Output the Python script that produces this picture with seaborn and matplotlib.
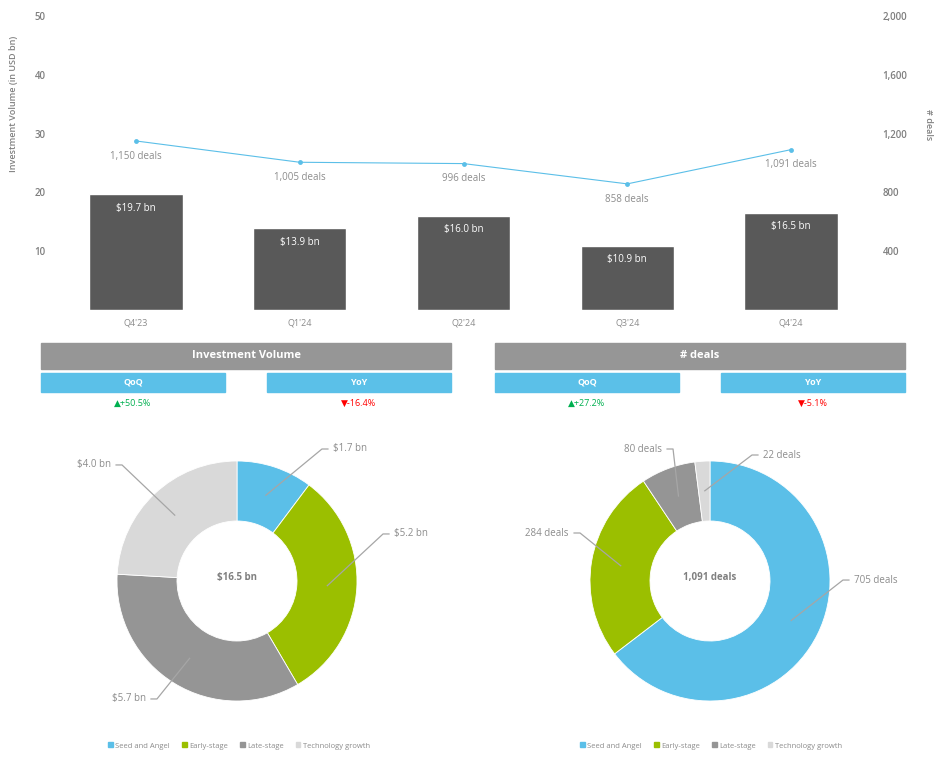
import numpy as np
import seaborn as sns
import matplotlib.pyplot as plt
from matplotlib.patches import Rectangle, Patch

# --- data ---
quarters = ["Q4'23", "Q1'24", "Q2'24", "Q3'24", "Q4'24"]
volume = [19.7, 13.9, 16.0, 10.9, 16.5]
deals = [1150, 1005, 996, 858, 1091]

stages = ['Seed and Angel', 'Early-stage', 'Late-stage', 'Technology growth']
stage_volume = [1.7, 5.2, 5.7, 4.0]
stage_deals = [705, 284, 80, 22]
total_volume = 16.5
total_deals = 1091

kpi_titles = ['Investment Volume', '# deals']
kpi_qoq = ['+50.5%', '+27.2%']
kpi_yoy = ['-16.4%', '-5.1%']

# --- style ---
sns.set_theme(style='white')
plt.rcParams['font.family'] = ['Open Sans', 'DejaVu Sans']
BAR = '#595959'
LINE = '#5BBFE8'
TXT = '#8c8c8c'
stage_colors = ['#5BBFE8', '#9BBF00', '#959595', '#D9D9D9']

W, H = 947, 766
fig = plt.figure(figsize=(W / 100, H / 100), dpi=100)

# --- top combo chart ---
ax = fig.add_axes([54 / W, 1 - 310 / H, 819 / W, 294 / H])
sns.barplot(x=quarters, y=volume, color=BAR, width=0.57, saturation=1, ax=ax)
ax.set_xlim(-0.5, len(quarters) - 0.5)
ax.set_ylim(0, 50)
ax.set_yticks([10, 20, 30, 40, 50])
ax.tick_params(axis='y', length=0, labelsize=7, labelcolor='#7f7f7f', pad=6)
ax.tick_params(axis='x', length=0, labelsize=6.5, labelcolor=TXT, pad=6)
for lab in ax.get_yticklabels():
    lab.set_fontweight('semibold')
ax.set_xlabel('')
ax.set_ylabel('Investment Volume (in USD bn)', fontsize=6.5, color='#808080',
              fontweight='semibold')
ax.yaxis.set_label_coords(-0.044, 0.70)
for i, v in enumerate(volume):
    ax.annotate(f'${v:.1f} bn', xy=(i, v), xytext=(0, -10), textcoords='offset points',
                ha='center', va='center', color='white', fontsize=7)
sns.despine(ax=ax, left=True, bottom=True)

ax2 = ax.twinx()
xpos = np.arange(len(quarters))
sns.lineplot(x=xpos, y=deals, color=LINE, linewidth=0.8, marker='o', markersize=3.5,
             markeredgewidth=0, sort=False, ax=ax2)
ax2.set_xlim(-0.5, len(quarters) - 0.5)
ax2.set_ylim(0, 2000)
ax2.set_yticks([400, 800, 1200, 1600, 2000])
ax2.set_yticklabels([f'{t:,}' for t in [400, 800, 1200, 1600, 2000]])
ax2.tick_params(axis='y', length=0, labelsize=7, labelcolor='#7f7f7f', pad=7)
for lab in ax2.get_yticklabels():
    lab.set_fontweight('semibold')
ax2.set_ylabel('# deals', fontsize=6.5, color='#808080', rotation=270,
               fontweight='semibold')
ax2.yaxis.set_label_coords(1.073, 0.63)
for i, d in enumerate(deals):
    ax2.annotate(f'{d:,} deals', xy=(i, d), xytext=(0, -11), textcoords='offset points',
                 ha='center', va='center', color=TXT, fontsize=7)
sns.despine(ax=ax2, left=True, bottom=True, right=True)

# --- KPI boxes (pixel overlay) ---
ov = fig.add_axes([0, 0, 1, 1])
ov.set_xlim(0, W)
ov.set_ylim(H, 0)
ov.axis('off')
for k, x0 in enumerate([41, 495]):
    ov.add_patch(Rectangle((x0, 343), 410, 26, color='#969696'))
    ov.text(x0 + 205, 356, kpi_titles[k], ha='center', va='center', color='white',
            fontsize=8, fontweight='bold')
    for j, (lbl, val, col, arrow) in enumerate([('QoQ', kpi_qoq[k], '#00B050', '▲'),
                                                ('YoY', kpi_yoy[k], '#FF0000', '▼')]):
        bx = x0 + j * 226
        ov.add_patch(Rectangle((bx, 373), 184, 19, color='#5BC0E8'))
        ov.text(bx + 92, 382.5, lbl, ha='center', va='center', color='white',
                fontsize=6.5, fontweight='bold')
        ov.text(bx + 92, 403, arrow + val, ha='center', va='center', color=col, fontsize=6.5)

# --- donuts ---
R = 120
S = 320


def donut(cx, cy, values, center_text, fmt, elbows, sides):
    a = fig.add_axes([(cx - S / 2) / W, 1 - (cy + S / 2) / H, S / W, S / H])
    a.pie(values, colors=stage_colors, startangle=90, counterclock=False, radius=1,
          wedgeprops=dict(width=0.5, edgecolor='white', linewidth=0.6))
    lim = S / 2 / R
    a.set_xlim(-lim, lim)
    a.set_ylim(-lim, lim)
    a.set_aspect('equal')
    a.text(0, 0.03, center_text, ha='center', va='center', color='#808080',
           fontsize=7, fontweight='bold')
    total = sum(values)
    cum = 0
    for v, (ex, ey), side in zip(values, elbows, sides):
        mid = 90 - (cum + v / 2) / total * 360
        cum += v
        ix, iy = 0.75 * np.cos(np.radians(mid)), 0.75 * np.sin(np.radians(mid))
        hx = ex + side * 0.055
        a.plot([ix, ex, hx], [iy, ey, ey], color='#a6a6a6', linewidth=0.9,
               solid_capstyle='butt', zorder=5)
        a.text(hx + side * 0.04, ey, fmt(v), ha='left' if side > 0 else 'right',
               va='center', color=TXT, fontsize=7)
    return a


donut(237, 581, stage_volume, f'${total_volume} bn', lambda v: f'${v:.1f} bn',
      [(0.708, 1.10), (1.217, 0.392), (-0.667, -0.983), (-0.958, 0.967)],
      [1, 1, -1, -1])
donut(710, 581, stage_deals, f'{total_deals:,} deals', lambda v: f'{v:,} deals',
      [(1.108, 0.008), (-1.083, 0.40), (-0.308, 1.10), (0.35, 1.05)],
      [1, -1, -1, 1])

handles = [Patch(color=c) for c in stage_colors]
for lx in [239, 711]:
    fig.legend(handles, stages, loc='center', bbox_to_anchor=(lx / W, 1 - 746 / H),
               ncol=4, frameon=False, fontsize=5.5, handlelength=0.6, handleheight=0.6,
               handletextpad=0.3, columnspacing=1.6, labelcolor='#8c8c8c')

fig.savefig('out.png', dpi=100)
